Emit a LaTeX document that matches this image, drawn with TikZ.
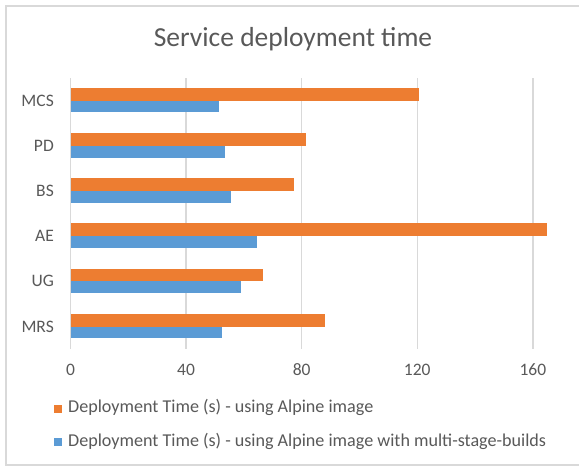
\documentclass[tikz,border=0pt]{standalone}
\usepackage{fontspec}
\setmainfont{Carlito}
\definecolor{serA}{HTML}{ED7D31}
\definecolor{serB}{HTML}{5B9BD5}
\definecolor{txtgray}{HTML}{595959}
\definecolor{gridgray}{HTML}{D9D9D9}
\begin{document}
\begin{tikzpicture}[x=1pt,y=-1pt,
  lbl/.style={font=\fontsize{17.5}{20}\selectfont, text=txtgray, inner sep=0pt},
  legtext/.style={font=\fontsize{18.1}{21}\selectfont, text=txtgray, inner sep=0pt},
  titletext/.style={font=\fontsize{27.5}{32}\selectfont, text=txtgray, inner sep=0pt},
  gridline/.style={draw=gridgray, line width=1.3pt},
  framebox/.style={draw=gridgray, line width=2pt},
  barA/.style={fill=serA},
  barB/.style={fill=serB}]
\useasboundingbox (0,0) rectangle (579,466);
\fill[white] (0,0) rectangle (579,466);
% chart frame (open on the right)
\draw[framebox] (579,6) -- (6,6) -- (6,465) -- (579,465);

% title
\node[titletext, anchor=base] (title) at (293,46.3) {Service deployment time};

% vertical gridlines and value axis labels
\foreach \v in {0,40,80,120,160}{
  \pgfmathsetmacro{\xx}{70.5+2.89*\v}
  \draw[gridline] (\xx,78) -- (\xx,349);
  \node[lbl, anchor=base] (tick\v) at (\xx,375.7) {\v};
}

% bars: index / category / alpine / alpine with multi-stage builds
\foreach \i/\cat/\a/\b in {1/MCS/120.5/51.5, 2/PD/81.5/53.5, 3/BS/77.5/55.5,
                           4/AE/165/64.5, 5/UG/66.5/59, 6/MRS/88/52.5}{
  \pgfmathsetmacro{\c}{78+45.2*(\i-0.5)}
  \pgfmathsetmacro{\xa}{70.5+2.89*\a}
  \pgfmathsetmacro{\xb}{70.5+2.89*\b}
  \fill[barA] (70.5,\c-12.8) rectangle (\xa,\c);
  \fill[barB] (70.5,\c) rectangle (\xb,\c+11.8);
  \node[lbl, anchor=base east] (cat\i) at (54,\c+5.5) {\cat};
}

% legend
\fill[serA] (54,404.5) rectangle (62,412.5);
\node[legtext, anchor=base west] (legA) at (68,412.5) {Deployment Time (s) - using Alpine image};
\fill[serB] (54,438) rectangle (62,446);
\node[legtext, anchor=base west] (legB) at (68,446) {Deployment Time (s) - using Alpine image with multi-stage-builds};
\end{tikzpicture}
\end{document}
